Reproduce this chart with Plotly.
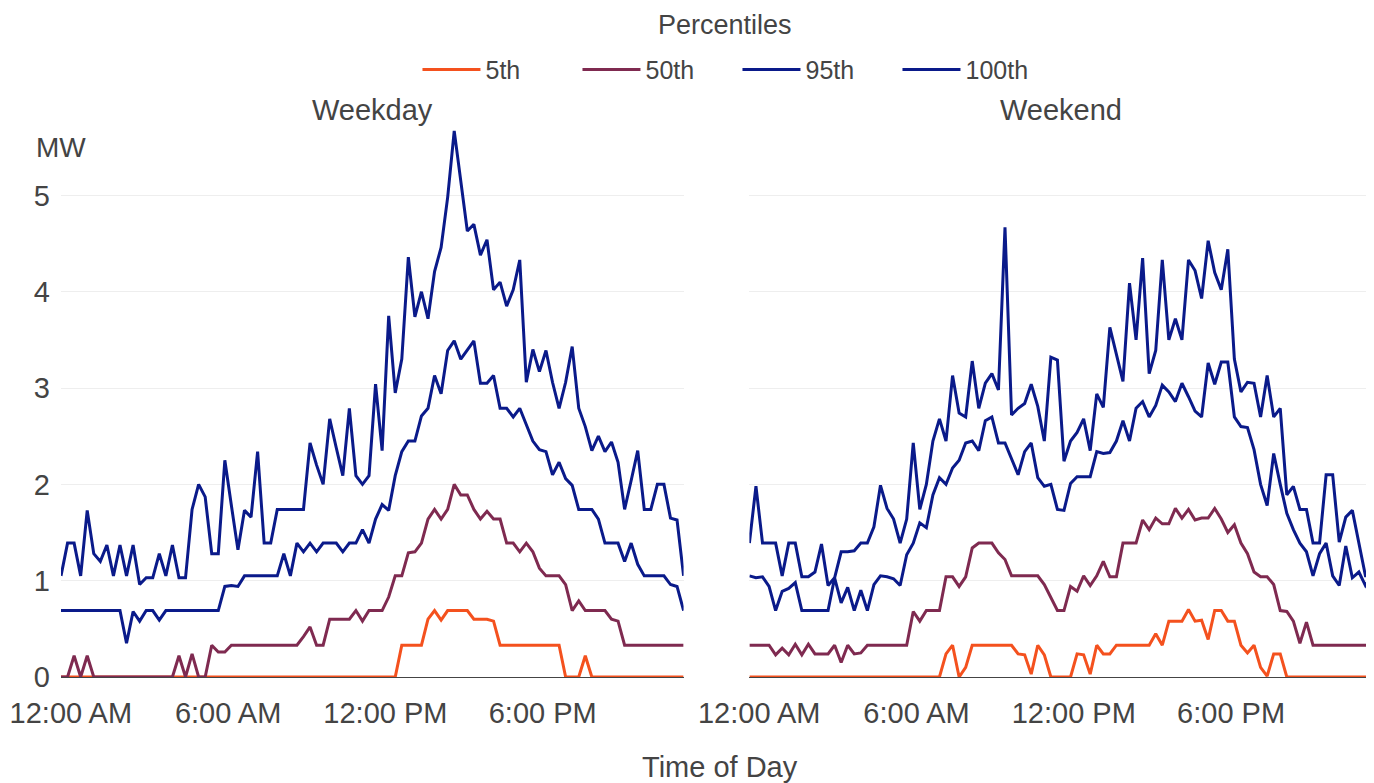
import plotly.graph_objects as go
from plotly.subplots import make_subplots

# 15-minute intervals, expressed in hours of the day
hours = [i * 0.25 for i in range(96)]
tick_vals = [0.375, 6.375, 12.375, 18.375]
tick_text = ["12:00 AM", "6:00 AM", "12:00 PM", "6:00 PM"]
y_ticks = [0, 1, 2, 3, 4, 5]

percentiles = ["5th", "50th", "95th", "100th"]
colors = ["#F4511E", "#7F2A50", "#0A1A8A", "#0A1A8A"]

weekday_p5 = [
    0, 0, 0, 0, 0, 0, 0, 0, 0, 0, 0, 0,
    0, 0, 0, 0, 0, 0, 0, 0, 0, 0, 0, 0,
    0, 0, 0, 0, 0, 0, 0, 0, 0, 0, 0, 0,
    0, 0, 0, 0, 0, 0, 0, 0, 0, 0, 0, 0,
    0, 0, 0, 0, 0.33, 0.33, 0.33, 0.33, 0.6, 0.69, 0.59, 0.69,
    0.69, 0.69, 0.69, 0.6, 0.6, 0.6, 0.58, 0.33, 0.33, 0.33, 0.33, 0.33,
    0.33, 0.33, 0.33, 0.33, 0.33, 0, 0, 0, 0.22, 0, 0, 0,
    0, 0, 0, 0, 0, 0, 0, 0, 0, 0, 0, 0,
]
weekday_p50 = [
    0, 0, 0.22, 0, 0.22, 0, 0, 0, 0, 0, 0, 0,
    0, 0, 0, 0, 0, 0, 0.22, 0, 0.24, 0, 0, 0.33,
    0.26, 0.26, 0.33, 0.33, 0.33, 0.33, 0.33, 0.33, 0.33, 0.33, 0.33, 0.33,
    0.33, 0.42, 0.52, 0.33, 0.33, 0.6, 0.6, 0.6, 0.6, 0.69, 0.58, 0.69,
    0.69, 0.69, 0.83, 1.05, 1.05, 1.29, 1.3, 1.39, 1.64, 1.74, 1.64, 1.74,
    2.0, 1.89, 1.89, 1.74, 1.64, 1.72, 1.64, 1.64, 1.39, 1.39, 1.3, 1.39,
    1.3, 1.13, 1.05, 1.05, 1.05, 0.96, 0.69, 0.79, 0.69, 0.69, 0.69, 0.69,
    0.6, 0.58, 0.33, 0.33, 0.33, 0.33, 0.33, 0.33, 0.33, 0.33, 0.33, 0.33,
]
weekday_p95 = [
    0.69, 0.69, 0.69, 0.69, 0.69, 0.69, 0.69, 0.69, 0.69, 0.69, 0.35, 0.68,
    0.58, 0.69, 0.69, 0.59, 0.69, 0.69, 0.69, 0.69, 0.69, 0.69, 0.69, 0.69,
    0.69, 0.94, 0.95, 0.94, 1.05, 1.05, 1.05, 1.05, 1.05, 1.05, 1.28, 1.05,
    1.39, 1.3, 1.39, 1.3, 1.39, 1.39, 1.39, 1.3, 1.39, 1.39, 1.53, 1.39,
    1.64, 1.79, 1.73, 2.09, 2.34, 2.45, 2.45, 2.71, 2.79, 3.13, 2.94, 3.39,
    3.49, 3.3, 3.4, 3.49, 3.05, 3.05, 3.13, 2.79, 2.79, 2.7, 2.79, 2.62,
    2.45, 2.36, 2.34, 2.1, 2.23, 2.06, 1.99, 1.74, 1.74, 1.74, 1.64, 1.39,
    1.39, 1.39, 1.2, 1.39, 1.17, 1.05, 1.05, 1.05, 1.05, 0.96, 0.94, 0.69,
]
weekday_p100 = [
    1.05, 1.39, 1.39, 1.05, 1.73, 1.28, 1.2, 1.37, 1.05, 1.37, 1.05, 1.37,
    0.96, 1.03, 1.03, 1.28, 1.05, 1.37, 1.03, 1.03, 1.74, 2.0, 1.87, 1.28,
    1.28, 2.25, 1.78, 1.32, 1.73, 1.66, 2.34, 1.39, 1.39, 1.74, 1.74, 1.74,
    1.74, 1.74, 2.43, 2.2, 2.0, 2.68, 2.38, 2.09, 2.79, 2.09, 2.0, 2.09,
    3.04, 2.35, 3.75, 2.95, 3.3, 4.36, 3.74, 4.0, 3.72, 4.21, 4.46, 4.98,
    5.67, 5.14, 4.63, 4.7, 4.38, 4.54, 4.02, 4.1, 3.85, 4.02, 4.33, 3.06,
    3.4, 3.17, 3.39, 3.06, 2.79, 3.06, 3.43, 2.79, 2.6, 2.35, 2.5, 2.34,
    2.44, 2.23, 1.74, 2.04, 2.35, 1.74, 1.74, 2.0, 2.0, 1.65, 1.63, 1.05,
]

weekend_p5 = [
    0, 0, 0, 0, 0, 0, 0, 0, 0, 0, 0, 0,
    0, 0, 0, 0, 0, 0, 0, 0, 0, 0, 0, 0,
    0, 0, 0, 0, 0, 0, 0.24, 0.33, 0, 0.1, 0.33, 0.33,
    0.33, 0.33, 0.33, 0.33, 0.33, 0.24, 0.23, 0.03, 0.33, 0.23, 0, 0,
    0, 0, 0.24, 0.23, 0.03, 0.33, 0.24, 0.24, 0.33, 0.33, 0.33, 0.33,
    0.33, 0.33, 0.45, 0.33, 0.58, 0.58, 0.58, 0.7, 0.58, 0.59, 0.39, 0.69,
    0.69, 0.58, 0.58, 0.33, 0.25, 0.33, 0.1, 0.01, 0.24, 0.24, 0, 0,
    0, 0, 0, 0, 0, 0, 0, 0, 0, 0, 0, 0,
]
weekend_p50 = [
    0.33, 0.33, 0.33, 0.33, 0.23, 0.3, 0.23, 0.34, 0.23, 0.34, 0.24, 0.24,
    0.24, 0.33, 0.15, 0.33, 0.24, 0.25, 0.33, 0.33, 0.33, 0.33, 0.33, 0.33,
    0.33, 0.68, 0.58, 0.69, 0.69, 0.69, 1.04, 1.04, 0.94, 1.04, 1.34, 1.39,
    1.39, 1.39, 1.29, 1.22, 1.05, 1.05, 1.05, 1.05, 1.05, 0.96, 0.83, 0.69,
    0.69, 0.94, 0.89, 1.05, 0.95, 1.05, 1.2, 1.04, 1.04, 1.39, 1.39, 1.39,
    1.63, 1.53, 1.65, 1.59, 1.59, 1.75, 1.65, 1.74, 1.63, 1.65, 1.65, 1.75,
    1.64, 1.5, 1.58, 1.39, 1.28, 1.09, 1.04, 1.04, 0.96, 0.69, 0.68, 0.58,
    0.35, 0.57, 0.33, 0.33, 0.33, 0.33, 0.33, 0.33, 0.33, 0.33, 0.33, 0.33,
]
weekend_p95 = [
    1.05, 1.03, 1.04, 0.94, 0.69, 0.89, 0.92, 0.98, 0.69, 0.69, 0.69, 0.69,
    0.69, 1.03, 0.77, 0.93, 0.69, 0.9, 0.69, 0.96, 1.05, 1.04, 1.02, 0.95,
    1.27, 1.39, 1.6, 1.55, 1.89, 2.07, 2.0, 2.17, 2.25, 2.43, 2.45, 2.35,
    2.66, 2.7, 2.43, 2.43, 2.26, 2.1, 2.34, 2.43, 2.07, 1.98, 2.0, 1.74,
    1.73, 2.01, 2.08, 2.08, 2.08, 2.34, 2.32, 2.33, 2.45, 2.66, 2.45, 2.79,
    2.86, 2.7, 2.82, 3.03, 2.96, 2.86, 3.05, 2.91, 2.76, 2.7, 3.26, 3.04,
    3.27, 3.27, 2.7, 2.6, 2.59, 2.36, 2.0, 1.78, 2.32, 2.0, 1.7, 1.53,
    1.39, 1.3, 1.05, 1.28, 1.39, 1.05, 0.95, 1.36, 1.03, 1.09, 0.95, 1.05,
]
weekend_p100 = [
    1.39, 1.98, 1.39, 1.39, 1.39, 1.05, 1.39, 1.39, 1.04, 1.04, 1.09, 1.38,
    0.95, 1.03, 1.3, 1.3, 1.31, 1.39, 1.39, 1.56, 1.99, 1.75, 1.64, 1.39,
    1.64, 2.43, 1.74, 2.0, 2.45, 2.68, 2.45, 3.13, 2.74, 2.7, 3.28, 2.79,
    3.05, 3.15, 2.98, 4.67, 2.72, 2.79, 2.84, 3.04, 2.81, 2.45, 3.32, 3.29,
    2.24, 2.45, 2.54, 2.68, 2.35, 2.94, 2.8, 3.63, 3.36, 3.07, 4.09, 3.5,
    4.35, 3.15, 3.39, 4.33, 3.5, 3.72, 3.5, 4.33, 4.22, 3.93, 4.53, 4.2,
    4.02, 4.44, 3.3, 2.96, 3.06, 3.05, 2.7, 3.13, 2.7, 2.79, 1.89, 1.98,
    1.74, 1.74, 1.39, 1.39, 2.1, 2.1, 1.4, 1.66, 1.73, 1.39, 1.05, 1.05,
]

weekday = [weekday_p5, weekday_p50, weekday_p95, weekday_p100]
weekend = [weekend_p5, weekend_p50, weekend_p95, weekend_p100]

FONT = "Liberation Sans, Arial, sans-serif"
TXT = "#444444"

fig = make_subplots(rows=1, cols=2, shared_yaxes=True,
                    horizontal_spacing=0.0502,
                    subplot_titles=("Weekday", "Weekend"))

for col, series in ((1, weekday), (2, weekend)):
    for name, color, vals in zip(percentiles, colors, series):
        fig.add_trace(go.Scatter(
            x=hours, y=vals, mode="lines", name=name,
            legendgroup=name, showlegend=(col == 1),
            line=dict(color=color, width=3),
            hoverinfo="skip",
        ), row=1, col=col)

for ann in fig.layout.annotations:
    ann.font = dict(size=29, color=TXT, family=FONT)
    ann.yshift = 0

fig.update_xaxes(
    tickvals=tick_vals, ticktext=tick_text,
    showgrid=False, zeroline=False,
    showline=True, linecolor="#444444", linewidth=1,
    ticks="", ticklabelstandoff=10,
    tickfont=dict(size=29, color=TXT, family=FONT),
)
fig.update_yaxes(
    range=[0, 5.7], tickvals=y_ticks,
    showgrid=True, gridcolor="#EEEEEE", gridwidth=1,
    zeroline=False, ticks="", ticklabelstandoff=10,
    tickfont=dict(size=29, color=TXT, family=FONT),
)

fig.add_annotation(text="MW", x=0, xref="paper", xanchor="center",
                   y=0.965, yref="paper", yanchor="middle", showarrow=False,
                   font=dict(size=28, color=TXT, family=FONT))
fig.add_annotation(text="Time of Day", x=0.5027, xref="paper", xanchor="center",
                   y=-0.164, yref="paper", yanchor="middle", showarrow=False,
                   font=dict(size=29, color=TXT, family=FONT))
fig.add_annotation(text="Percentiles", x=0.5065, xref="paper", xanchor="center",
                   y=1.1876, yref="paper", yanchor="middle", showarrow=False,
                   font=dict(size=27, color=TXT, family=FONT))

# page has an 8px body margin, so the figure is sized to fit inside it
fig.update_layout(
    width=1366, height=775,
    margin=dict(l=49, r=2, t=120, b=106),
    paper_bgcolor="white", plot_bgcolor="white",
    font=dict(family=FONT, color=TXT, size=25),
    legend=dict(
        orientation="h", x=0.516, xanchor="center",
        y=1.106, yanchor="middle",
        font=dict(size=25, color=TXT, family=FONT),
        itemwidth=58, entrywidth=87,
    ),
)

fig.write_html("out.html")
